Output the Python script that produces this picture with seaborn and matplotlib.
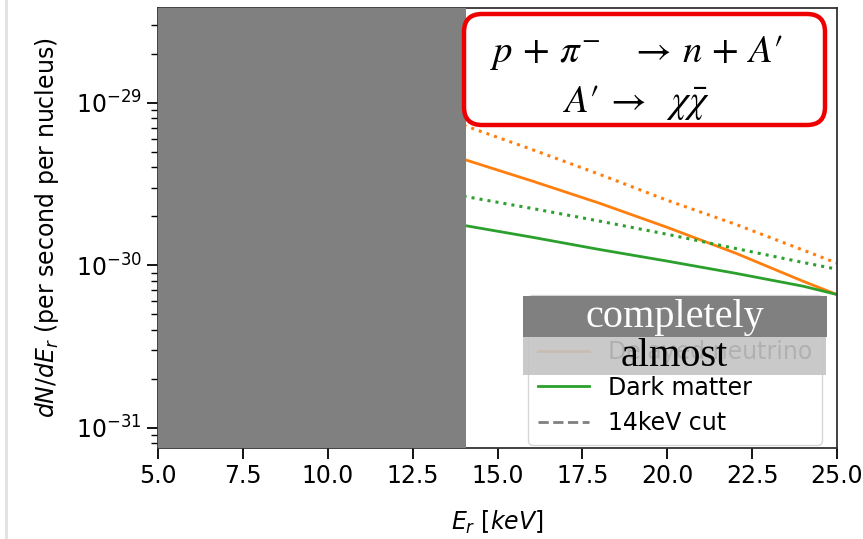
import numpy as np
import pandas as pd
import matplotlib.pyplot as plt
import seaborn as sns
from matplotlib.patches import FancyBboxPatch, Rectangle
from matplotlib.lines import Line2D
from matplotlib.transforms import IdentityTransform


energy = [14, 16, 18, 20, 22, 24, 25]
delayed = [4.49e-30, 3.31e-30, 2.41e-30, 1.71e-30, 1.19e-30, 7.97e-31, 6.6e-31]
delayed_dotted = [7.27e-30, 5.17e-30, 3.63e-30, 2.51e-30, 1.79e-30, 1.24e-30, 1.03e-30]
dark_matter = [1.76e-30, 1.49e-30, 1.25e-30, 1.06e-30, 8.93e-31, 7.43e-31, 6.6e-31]
dark_matter_dotted = [2.66e-30, 2.24e-30, 1.87e-30, 1.55e-30, 1.27e-30, 1.04e-30, 9.45e-31]
cut_energy = 14
legend_labels = ['Prompt neutrino', 'Delayed neutrino', 'Dark matter', '14keV cut']

df = pd.DataFrame({'E': energy, 'delayed': delayed, 'delayed_dotted': delayed_dotted,
                   'dm': dark_matter, 'dm_dotted': dark_matter_dotted})

plt.rcParams['font.size'] = 17

fig = plt.figure(figsize = (8.63, 5.39), dpi = 100)
ax = fig.add_axes([158/863, 1 - 448/539, 679/863, 440/539])

sns.lineplot(data = df, x = 'E', y = 'delayed', color = 'C1', lw = 2, ax = ax)
sns.lineplot(data = df, x = 'E', y = 'delayed_dotted', color = 'C1', lw = 2.2, linestyle = ':', ax = ax)
sns.lineplot(data = df, x = 'E', y = 'dm', color = 'C2', lw = 2, ax = ax)
sns.lineplot(data = df, x = 'E', y = 'dm_dotted', color = 'C2', lw = 2.2, linestyle = ':', ax = ax)
ax.axvline(cut_energy, color = 'gray', linestyle = '--', lw = 2, zorder = 1)

ax.set_yscale('log')
ax.set_xlim(5, 25)
ax.set_ylim(7.5e-32, 3.83e-29)
ax.set_xlabel(r'$E_r$ $[keV]$', labelpad = 15)
ax.set_ylabel(r'$dN/dE_r$ (per second per nucleus)', labelpad = 11)
ax.tick_params(which = 'major', length = 8, width = 1.3)
ax.tick_params(which = 'minor', length = 5, width = 1.0)
for s in ax.spines.values():
    s.set_linewidth(1.3)
    s.set_edgecolor('#333333')

# covered region
ax.axvspan(5, 14.07, color = '#808080', zorder = 5, lw = 0)

handles = [Line2D([], [], color = 'C0', lw = 2),
           Line2D([], [], color = 'C1', lw = 2),
           Line2D([], [], color = 'C2', lw = 2),
           Line2D([], [], color = 'gray', lw = 2, linestyle = '--')]
leg = ax.legend(handles, legend_labels, loc = 'lower right', bbox_to_anchor = (0.978, 0.007),
                borderaxespad = 0, fontsize = 17, handlelength = 2.2)
leg.set_zorder(6)

ident = IdentityTransform()
fig.add_artist(Rectangle((5, 0), 2.5, 539, transform = ident, color = '#e3e3e3', lw = 0))

fig.add_artist(FancyBboxPatch((464, 414), 361, 111, boxstyle = 'round,pad=0,rounding_size=18',
                              transform = ident, facecolor = 'white', edgecolor = '#ee0000', lw = 3.2, zorder = 10))
fig.text(636, 487, r"$p\,+\,\pi^{-}\ \ \ \rightarrow\,n\,+\,A\prime$", transform = ident, ha = 'center', va = 'center',
         fontsize = 28, math_fontfamily = 'stix', zorder = 11)
fig.text(636, 436, r"$A\prime\,\rightarrow\ \ \chi\bar{\chi}$", transform = ident, ha = 'center', va = 'center',
         fontsize = 28, math_fontfamily = 'stix', zorder = 11)

fig.add_artist(Rectangle((523, 202), 304, 41, transform = ident, color = '#808080', lw = 0, zorder = 10))
fig.text(675, 222, 'completely', transform = ident, ha = 'center', va = 'center', color = 'white',
         fontsize = 29, family = 'Liberation Serif', zorder = 11)
fig.add_artist(Rectangle((523, 164), 303, 38, transform = ident, color = '#c4c4c4', alpha = 0.9, lw = 0, zorder = 10))
fig.text(674, 183, 'almost', transform = ident, ha = 'center', va = 'center', color = 'black',
         fontsize = 29, family = 'Liberation Serif', zorder = 11)

fig.savefig('out.png', dpi = 100)
